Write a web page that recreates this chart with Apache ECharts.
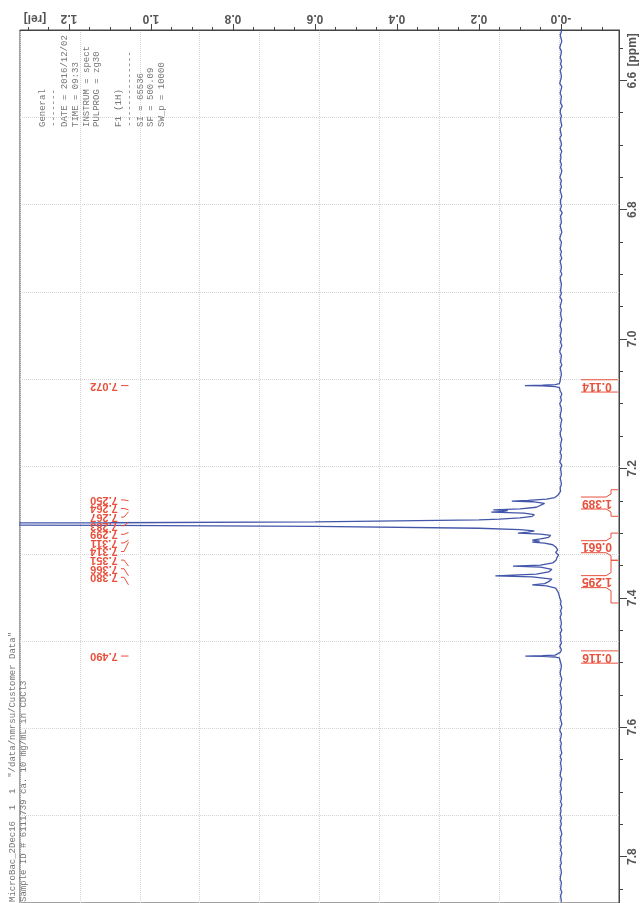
<!DOCTYPE html>
<html><head><meta charset="utf-8">
<script src="https://cdn.jsdelivr.net/npm/echarts@6/dist/echarts.min.js"></script>
<style>html,body{margin:0;padding:0;background:#fff}#c{width:643px;height:903px}</style>
</head><body><div id="c"></div>
<script>
// ---------------- data ----------------
const peakLabels = [7.072, 7.250, 7.264, 7.267, 7.283, 7.299, 7.311, 7.314, 7.351, 7.366, 7.380, 7.490];
const integralStart = [7.063, 7.233, 7.300, 7.342, 7.482];
const integralEnd = [7.082, 7.274, 7.342, 7.408, 7.501];
const integralValues = ['0.114', '1.389', '0.661', '1.295', '0.116'];
const relTicks = [0, 0.2, 0.4, 0.6, 0.8, 1.0, 1.2];
const relTickLabels = ['-0.0', '0.2', '0.4', '0.6', '0.8', '1.0', '1.2'];
const ppmTicks = [6.6, 6.8, 7.0, 7.2, 7.4, 7.6, 7.8];
const ppmTickLabels = ['6.6', '6.8', '7.0', '7.2', '7.4', '7.6', '7.8'];
const relUnitLabel = '[rel]';
const ppmUnitLabel = '[ppm]';

// baseline noise, in units of 0.001 rel, sampled every 0.005 ppm from 6.520 ppm
const baselineStart = 6.520, baselineStep = 0.005;
const baselineNoise = [
 1,-1,2,0,-2,1,3,-1,0,2, -1,1,-2,2,0,-1,1,3,-2,0, 2,-1,0,1,-3,1,2,-1,1,0,
 -2,2,1,-1,3,0,-1,2,-2,1, 0,2,-1,1,-2,0,3,-1,1,-1, 2,0,-2,1,1,-1,2,-3,1,0,
 -1,2,0,-2,1,3,-1,0,2,-1, 1,-2,2,0,-1,1,-2,2,1,-1, 0,1,-1,3,-2,0,2,-1,1,0,
 -2,1,2,-1,0,2,-1,1,-2,1, 3,-1,0,1,-2,2,0,-1,1,2, -1,0,2,-2,1,-1,3,0,-1,1,
 2,-2,0,1,-1,2,1,-2,0,1, -1,2,-1,0,3,-2,1,0,-1,2, 0,-1,2,1,-2,0,1,-1,3,-1,
 1,0,-2,2,-1,1,0,2,-2,0, 2,-1,1,-1,0,2,-2,1,1,-1, 0,2,-1,-2,1,3,-1,0,1,-2,
 1,-1,2,0,-1,1,-2,2,0,1, -1,3,-1,0,2,-2,1,-1,0,2, 1,-2,0,2,-1,1,1,-2,2,0,
 -1,1,-1,2,0,-2,1,3,-1,0, 2,-1,1,0,-2,2,-1,1,0,-1, 1,2,-2,0,1,-1,2,0,-1,1,
 -2,1,0,2,-1,1,-1,2,0,-2, 1,0,2,-1,1,-2,0,1,-1,2, 0,-1,1,2,-1,0,1,-2,1,0,
 -1,2,0,-1,1,-2,2,0,1,-1
];
// peak at 7.072
const peakAPpm = [7.066, 7.069, 7.0705, 7.0715, 7.072, 7.0725, 7.0735, 7.075, 7.078];
const peakAInt = [0.001, 0.004, 0.014, 0.045, 0.088, 0.045, 0.014, 0.004, 0.000];
// multiplet region 7.24 - 7.40
const clusterPpm = [7.236, 7.241, 7.245, 7.2475, 7.2495, 7.2505, 7.2515, 7.254, 7.257, 7.260,
  7.2625, 7.264, 7.2652, 7.2665, 7.2675, 7.269, 7.2715, 7.274, 7.2765, 7.2785,
  7.2795, 7.2825, 7.284, 7.2852, 7.286, 7.2868, 7.288, 7.2895, 7.2925, 7.2945,
  7.2965, 7.2985, 7.300, 7.3015, 7.3035, 7.3065, 7.309, 7.311, 7.3125, 7.314,
  7.3155, 7.318, 7.322, 7.326, 7.330, 7.334, 7.338, 7.342, 7.346, 7.3495,
  7.351, 7.3525, 7.356, 7.360, 7.3635, 7.366, 7.3675, 7.371, 7.375, 7.378,
  7.380, 7.3815, 7.385, 7.390, 7.395, 7.400];
const clusterInt = [0.003, 0.007, 0.015, 0.035, 0.08, 0.12, 0.07, 0.04, 0.042, 0.06,
  0.10, 0.165, 0.13, 0.14, 0.17, 0.09, 0.065, 0.07, 0.10, 0.15,
  0.20, 0.60, 1.10, 2.20, 3.50, 2.20, 1.10, 0.60, 0.20, 0.10,
  0.065, 0.08, 0.105, 0.05, 0.025, 0.03, 0.05, 0.07, 0.052, 0.07,
  0.04, 0.02, 0.012, 0.008, 0.013, 0.006, 0.01, 0.012, 0.02, 0.05,
  0.117, 0.05, 0.022, 0.03, 0.06, 0.16, 0.07, 0.022, 0.03, 0.04,
  0.07, 0.035, 0.013, 0.008, 0.005, 0.003];
// peak at 7.490
const peakBPpm = [7.484, 7.487, 7.4885, 7.4895, 7.490, 7.4905, 7.4915, 7.493, 7.496];
const peakBInt = [0.001, 0.004, 0.014, 0.045, 0.087, 0.045, 0.014, 0.004, 0.001];

const paramLines = ['General', '-------', 'DATE = 2016/12/02', 'TIME = 09:33', 'INSTRUM = spect',
  'PULPROG = zg30', '', 'F1 (1H)', '--------------', 'SI = 65536', 'SF = 500.09', 'SW_p = 10000'];
const titleLines = ['MicroBac_2Dec16  1  1  "/data/nmrsu/Customer Data"',
  'Sample ID # 6111739 ca. 10 mg/mL in CDCl3'];

// ---------------- build ----------------
const RED = '#e9503c';
const BLUE = '#4356aa';
const GL = 20, GT = 30, GR = 619;
const segs = [[peakAPpm, peakAInt], [clusterPpm, clusterInt], [peakBPpm, peakBInt]];
const spectrum = [];
baselineNoise.forEach((n, i) => {
  const p = baselineStart + i * baselineStep;
  if (p > 7.8717) return;
  if (segs.some(([pp]) => p >= pp[0] - 1e-9 && p <= pp[pp.length - 1] + 1e-9)) return;
  spectrum.push([n / 1000, p]);
});
segs.forEach(([pp, ii]) => pp.forEach((p, k) => spectrum.push([ii[k], p])));
spectrum.sort((a, b) => a[1] - b[1]);

const relMin = -0.1415, relMax = 1.3195, ppmMin = 6.5224, ppmMax = 7.8717;
const relMinor = []; for (let k = -2; k <= 26; k++) relMinor.push(+(k * 0.05).toFixed(2));
const ppmMinor = []; for (let k = 131; k <= 157; k++) ppmMinor.push(+(k * 0.05).toFixed(2));
const relUnitPos = 1.283, ppmUnitPos = 6.553;

function fmtFrom(ticks, labels, unitPos, unit) {
  return v => {
    if (Math.abs(v - unitPos) < 1e-6) return unit;
    const i = ticks.findIndex(t => Math.abs(t - v) < 1e-6);
    return i >= 0 ? labels[i] : '';
  };
}

// spread crowded peak labels evenly around the mean of their peak positions
function spread(ys, gap, joinFactor) {
  let groups = ys.map((y, i) => ({ s: i, e: i, c: y }));
  const first = g => g.c - (g.e - g.s) * gap / 2;
  let changed = true;
  while (changed) {
    changed = false;
    for (let i = 0; i < groups.length - 1; i++) {
      const a = groups[i], b = groups[i + 1];
      const aLast = first(a) + (a.e - a.s) * gap;
      if (first(b) - aLast < gap * joinFactor) {
        let sum = 0; for (let j = a.s; j <= b.e; j++) sum += ys[j];
        groups.splice(i, 2, { s: a.s, e: b.e, c: sum / (b.e - a.s + 1) });
        changed = true; break;
      }
    }
  }
  const out = [];
  groups.forEach(g => { const f = first(g); for (let j = g.s; j <= g.e; j++) out[j] = f + (j - g.s) * gap; });
  return out;
}

const labelFont = 'bold 11px "Liberation Sans"';
const axisLabelStyle = { color: '#555', fontSize: 12, fontWeight: 'bold', fontFamily: 'Liberation Sans' };

const chart = echarts.init(document.getElementById('c'), null, { renderer: 'canvas' });
const option = {
  animation: false,
  backgroundColor: '#fff',
  grid: { left: GL, top: GT, right: 643 - GR, bottom: 0, show: true, borderColor: '#444', borderWidth: 1 },
  xAxis: [
    { type: 'value', position: 'top', inverse: true, min: relMin, max: relMax,
      axisLine: { show: true, onZero: false, lineStyle: { color: '#444' } },
      axisTick: { show: true, customValues: relTicks, length: 6, lineStyle: { color: '#444' } },
      axisLabel: Object.assign({ show: true, customValues: relTicks.concat([relUnitPos]), rotate: 180, margin: 6,
        formatter: fmtFrom(relTicks, relTickLabels, relUnitPos, relUnitLabel) }, axisLabelStyle),
      splitLine: { show: false } },
    { type: 'value', position: 'top', inverse: true, min: relMin, max: relMax,
      axisLine: { show: false, onZero: false },
      axisTick: { show: true, customValues: relMinor, length: 3, lineStyle: { color: '#444' } },
      axisLabel: { show: false }, splitLine: { show: false } },
    { type: 'value', position: 'top', min: 0, max: 10, interval: 1,
      axisLine: { show: false, onZero: false }, axisTick: { show: false }, axisLabel: { show: false },
      splitLine: { show: true, lineStyle: { color: '#d4d4d4', type: 'dotted', width: 1 } } }
  ],
  yAxis: [
    { type: 'value', position: 'right', inverse: true, min: ppmMin, max: ppmMax,
      axisLine: { show: true, onZero: false, lineStyle: { color: '#444' } },
      axisTick: { show: true, customValues: ppmTicks, length: 8, lineStyle: { color: '#444' } },
      axisLabel: Object.assign({ show: true, customValues: [ppmUnitPos].concat(ppmTicks), rotate: 90, margin: 8,
        formatter: fmtFrom(ppmTicks, ppmTickLabels, ppmUnitPos, ppmUnitLabel) }, axisLabelStyle),
      splitLine: { show: false } },
    { type: 'value', position: 'right', inverse: true, min: ppmMin, max: ppmMax,
      axisLine: { show: false, onZero: false },
      axisTick: { show: true, customValues: ppmMinor, length: 4, lineStyle: { color: '#444' } },
      axisLabel: { show: false }, splitLine: { show: false } },
    { type: 'value', position: 'right', inverse: true, min: 0, max: 10, interval: 1,
      axisLine: { show: false, onZero: false }, axisTick: { show: false }, axisLabel: { show: false },
      splitLine: { show: true, lineStyle: { color: '#d4d4d4', type: 'dotted', width: 1 } } }
  ],
  series: [
    { type: 'line', xAxisIndex: 0, yAxisIndex: 0, data: spectrum, showSymbol: false, symbol: 'none',
      clip: true, lineStyle: { color: BLUE, width: 1.3 }, z: 3 },
    { type: 'custom', xAxisIndex: 0, yAxisIndex: 0, clip: false, z: 4,
      data: peakLabels.map(p => [0, p]),
      renderItem: (params, api) => {
        const ys = peakLabels.map(p => api.coord([0, p])[1]);
        const ly = spread(ys, 8.6, 2.3);
        const i = params.dataIndex;
        return { type: 'group', children: [
          { type: 'text', x: GL + 84, y: ly[i], rotation: Math.PI,
            style: { text: peakLabels[i].toFixed(3), font: labelFont, fill: RED, align: 'center', verticalAlign: 'middle', textAlign: 'center', textVerticalAlign: 'middle' } },
          { type: 'polyline', shape: { points: [[GL + 101, ly[i]], [GL + 104, ly[i]], [GL + 108.5, ys[i]]] },
            style: { stroke: RED, lineWidth: 1, fill: null } }
        ] };
      } },
    { type: 'custom', xAxisIndex: 0, yAxisIndex: 0, clip: false, z: 4,
      data: integralStart.map(p => [0, p]),
      renderItem: (params, api) => {
        const i = params.dataIndex;
        const yS = api.coord([0, integralStart[i]])[1];
        const yE = api.coord([0, integralEnd[i]])[1];
        const c = (yS + yE) / 2;
        const xr = GR - 1, xb = GR - 8, xl = GR - 38;
        const ls = { stroke: RED, lineWidth: 1, fill: null };
        const ch = [];
        if (yE - yS < 18) {
          ch.push({ type: 'polyline', shape: { points: [[xl, yS], [xr, yS]] }, style: ls });
          ch.push({ type: 'polyline', shape: { points: [[xl, yE], [xr, yE]] }, style: ls });
        } else {
          ch.push({ type: 'polyline', shape: { points: [[xr, yS], [xb, yS], [xb, c - 9], [xb - 5, c - 6], [xl, c - 6]] }, style: ls });
          ch.push({ type: 'polyline', shape: { points: [[xr, yE], [xb, yE], [xb, c + 9], [xb - 5, c + 6], [xl, c + 6]] }, style: ls });
        }
        ch.push({ type: 'text', x: (xl + xb) / 2 + 1, y: c, rotation: Math.PI,
          style: { text: integralValues[i], font: 'bold 12px "Liberation Sans"', fill: RED, align: 'center', verticalAlign: 'middle', textAlign: 'center', textVerticalAlign: 'middle' } });
        return { type: 'group', children: ch };
      } }
  ],
  graphic: paramLines.map((t, i) => ({
    type: 'text', x: 43 + 10.8 * i, y: 127, rotation: Math.PI / 2, z: 5,
    style: { text: t, font: '9px "Liberation Mono"', fill: '#777', textAlign: 'left', textVerticalAlign: 'middle' }
  })).concat(titleLines.map((t, i) => ({
    type: 'text', x: 12.5 + 10.8 * i, y: 902, rotation: Math.PI / 2, z: 5,
    style: { text: t, font: '9px "Liberation Mono"', fill: '#777', textAlign: 'left', textVerticalAlign: 'middle' }
  })))
};
chart.setOption(option);
</script>
</body></html>
